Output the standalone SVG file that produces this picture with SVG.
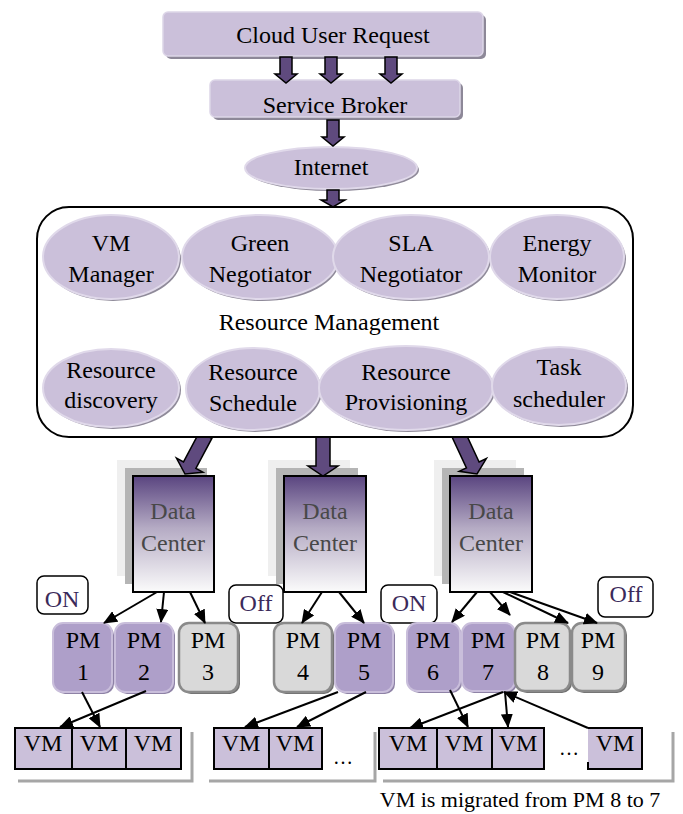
<svg xmlns="http://www.w3.org/2000/svg" xmlns:xlink="http://www.w3.org/1999/xlink" width="683" height="814" viewBox="0 0 683 814" font-family="'Liberation Serif', 'Times New Roman', 'DejaVu Serif', serif">
<style>
text{font-family:'Liberation Serif','Times New Roman','DejaVu Serif',serif;font-size:24px;text-anchor:middle;fill:#000}
.box{fill:#cbc0da;stroke:#ddd6e8;stroke-width:1.5}
.sh{fill:#8d8898}
.ell{fill:#cbc0da;stroke:#e0d9ea;stroke-width:2}
.esh{fill:#8f8a99}
.fat{fill:#5f4a7e;stroke:#000;stroke-width:1.5}
.ln{stroke:#000;stroke-width:2;fill:none;marker-end:url(#ah)}
.dc{fill:url(#dcg);stroke:#000;stroke-width:2}
.dct{fill:#484848}
.l1{fill:#efefef}
.l2{fill:#b5b5b5}
.pmp{fill:#ae9fc9;stroke:#c9bedb;stroke-width:2}
.pmps{fill:#8e82a6}
.pmg{fill:#d9d9d9;stroke:#8a8a8a;stroke-width:2.5}
.pmgs{fill:#6e6e6e}
.vm{fill:#cbc0da;stroke:#000;stroke-width:2}
.br{fill:none;stroke:#a6a6a6;stroke-width:3}
.tag{fill:#fff;stroke:#000;stroke-width:1.5}
.tagt{fill:#3b2a5a}
</style>
<defs>
<linearGradient id="dcg" x1="0" y1="0" x2="0" y2="1">
<stop offset="0" stop-color="#5a4580"/>
<stop offset="0.45" stop-color="#b5abc4"/>
<stop offset="1" stop-color="#fbfbfb"/>
</linearGradient>
<marker id="ah" markerUnits="userSpaceOnUse" markerWidth="14" markerHeight="12" viewBox="0 0 14 12" refX="13" refY="6" orient="auto">
<path d="M0,0 L14,6 L0,12 Z" fill="#000"/>
</marker>
<clipPath id="below"><rect x="0" y="438" width="683" height="100"/></clipPath>
<path id="arS" d="M-6,-26 H6 V-9 H11 L0,0 L-11,-9 H-6 Z"/>
<path id="arB" d="M-7,-44 H7 V-10 H15 L0,0 L-15,-10 H-7 Z"/>
</defs>

<g id="cloud-user-request">
<rect class="sh" x="166" y="15" width="320" height="44" rx="5"/>
<rect class="box" x="163" y="12" width="320" height="44" rx="5"/>
<text x="333" y="43">Cloud User Request</text>
</g>
<g id="service-broker">
<rect class="sh" x="213" y="83" width="250" height="37" rx="5"/>
<rect class="box" x="210" y="80" width="250" height="37" rx="5"/>
<text x="335" y="113">Service Broker</text>
</g>
<g id="internet">
<ellipse class="esh" cx="333" cy="170" rx="86" ry="21"/>
<ellipse class="ell" cx="331" cy="168" rx="86" ry="21"/>
<text x="331" y="175">Internet</text>
</g>

<g id="resource-management">
<rect x="37" y="207" width="596" height="230" rx="32" fill="#fff" stroke="#000" stroke-width="2"/>
<text x="329" y="330">Resource Management</text>
</g>
<g id="vm-manager">
<ellipse class="esh" cx="113" cy="259" rx="68" ry="42"/>
<ellipse class="ell" cx="111" cy="257" rx="68" ry="42"/>
<text x="111" y="251">VM</text><text x="111" y="282">Manager</text>
</g>
<g id="green-negotiator">
<ellipse class="esh" cx="262" cy="259" rx="78" ry="42"/>
<ellipse class="ell" cx="260" cy="257" rx="78" ry="42"/>
<text x="260" y="251">Green</text><text x="260" y="282">Negotiator</text>
</g>
<g id="sla-negotiator">
<ellipse class="esh" cx="413" cy="259" rx="78" ry="42"/>
<ellipse class="ell" cx="411" cy="257" rx="78" ry="42"/>
<text x="411" y="251">SLA</text><text x="411" y="282">Negotiator</text>
</g>
<g id="energy-monitor">
<ellipse class="esh" cx="559" cy="259" rx="67" ry="42"/>
<ellipse class="ell" cx="557" cy="257" rx="67" ry="42"/>
<text x="557" y="251">Energy</text><text x="557" y="282">Monitor</text>
</g>
<g id="resource-discovery">
<ellipse class="esh" cx="113" cy="390" rx="68" ry="39"/>
<ellipse class="ell" cx="111" cy="388" rx="68" ry="39"/>
<text x="111" y="378">Resource</text><text x="111" y="408">discovery</text>
</g>
<g id="resource-schedule">
<ellipse class="esh" cx="255" cy="391" rx="67" ry="41"/>
<ellipse class="ell" cx="253" cy="389" rx="67" ry="41"/>
<text x="253" y="380">Resource</text><text x="253" y="411">Schedule</text>
</g>
<g id="resource-provisioning">
<ellipse class="esh" cx="408" cy="390" rx="87" ry="42"/>
<ellipse class="ell" cx="406" cy="388" rx="87" ry="42"/>
<text x="406" y="380">Resource</text><text x="406" y="410">Provisioning</text>
</g>
<g id="task-scheduler">
<ellipse class="esh" cx="561" cy="388" rx="67" ry="39"/>
<ellipse class="ell" cx="559" cy="386" rx="67" ry="39"/>
<text x="559" y="375">Task</text><text x="559" y="407">scheduler</text>
</g>

<g id="dc1">
<rect class="l1" x="117" y="460" width="82" height="116"/>
<rect class="l2" x="125" y="468" width="82" height="116"/>
<rect class="dc" x="133" y="476" width="81" height="116"/>
<text class="dct" x="173" y="519">Data</text><text class="dct" x="173" y="551">Center</text>
</g>
<g id="dc2">
<rect class="l1" x="268" y="460" width="82" height="116"/>
<rect class="l2" x="276" y="468" width="82" height="116"/>
<rect class="dc" x="284" y="476" width="82" height="116"/>
<text class="dct" x="325" y="519">Data</text><text class="dct" x="325" y="551">Center</text>
</g>
<g id="dc3">
<rect class="l1" x="434" y="460" width="82" height="116"/>
<rect class="l2" x="442" y="468" width="82" height="116"/>
<rect class="dc" x="450" y="476" width="82" height="116"/>
<text class="dct" x="491" y="519">Data</text><text class="dct" x="491" y="551">Center</text>
</g>

<g id="tag-on1"><rect class="tag" x="37" y="576" width="51" height="38" rx="7"/><text class="tagt" x="62" y="607">ON</text></g>
<g id="tag-off1"><rect class="tag" x="229" y="585" width="54" height="38" rx="7"/><text class="tagt" x="256" y="611">Off</text></g>
<g id="tag-on2"><rect class="tag" x="381" y="585" width="56" height="38" rx="7"/><text class="tagt" x="409" y="611">ON</text></g>
<g id="tag-off2"><rect class="tag" x="598" y="577" width="55" height="40" rx="7"/><text class="tagt" x="626" y="602">Off</text></g>

<g id="pm1"><rect class="pmps" x="55" y="625" width="59" height="69" rx="10"/><rect class="pmp" x="53" y="623" width="59" height="69" rx="10"/><text x="83" y="648">PM</text><text x="83" y="680">1</text></g>
<g id="pm2"><rect class="pmps" x="117" y="625" width="58" height="69" rx="10"/><rect class="pmp" x="115" y="623" width="58" height="69" rx="10"/><text x="144" y="648">PM</text><text x="144" y="680">2</text></g>
<g id="pm3"><rect class="pmgs" x="181" y="625" width="59" height="69" rx="10"/><rect class="pmg" x="179" y="623" width="59" height="69" rx="10"/><text x="208" y="648">PM</text><text x="208" y="680">3</text></g>
<g id="pm4"><rect class="pmgs" x="276" y="625" width="58" height="69" rx="10"/><rect class="pmg" x="274" y="623" width="58" height="69" rx="10"/><text x="303" y="648">PM</text><text x="303" y="680">4</text></g>
<g id="pm5"><rect class="pmps" x="337" y="625" width="58" height="69" rx="10"/><rect class="pmp" x="335" y="623" width="58" height="69" rx="10"/><text x="364" y="648">PM</text><text x="364" y="680">5</text></g>
<g id="pm6"><rect class="pmps" x="409" y="625" width="53" height="68" rx="10"/><rect class="pmp" x="407" y="623" width="53" height="68" rx="10"/><text x="433" y="648">PM</text><text x="433" y="680">6</text></g>
<g id="pm7"><rect class="pmps" x="464" y="625" width="53" height="68" rx="10"/><rect class="pmp" x="462" y="623" width="53" height="68" rx="10"/><text x="488" y="648">PM</text><text x="488" y="680">7</text></g>
<g id="pm8"><rect class="pmgs" x="517" y="625" width="55" height="68" rx="10"/><rect class="pmg" x="515" y="623" width="55" height="68" rx="10"/><text x="543" y="648">PM</text><text x="543" y="680">8</text></g>
<g id="pm9"><rect class="pmgs" x="574" y="625" width="53" height="68" rx="10"/><rect class="pmg" x="572" y="623" width="53" height="68" rx="10"/><text x="598" y="648">PM</text><text x="598" y="680">9</text></g>

<g id="vm-row1">
<polyline class="br" points="18,781 192,781 192,732"/>
<rect class="vm" x="15" y="728" width="57" height="41"/><text x="43" y="751">VM</text>
<rect class="vm" x="72" y="728" width="54" height="41"/><text x="99" y="751">VM</text>
<rect class="vm" x="126" y="728" width="55" height="41"/><text x="153" y="751">VM</text>
</g>
<g id="vm-row2">
<polyline class="br" points="209,781 375,781 375,732"/>
<rect class="vm" x="214" y="728" width="55" height="41"/><text x="241" y="751">VM</text>
<rect class="vm" x="269" y="728" width="53" height="41"/><text x="295" y="751">VM</text>
<text x="343" y="764" style="font-size:20px">…</text>
</g>
<g id="vm-row3">
<polyline class="br" points="383,781 673,781 673,732"/>
<rect class="vm" x="379" y="728" width="58" height="41"/><text x="408" y="751">VM</text>
<rect class="vm" x="437" y="728" width="55" height="41"/><text x="464" y="751">VM</text>
<rect class="vm" x="492" y="728" width="52" height="41"/><text x="518" y="751">VM</text>
<text x="569" y="755" style="font-size:20px">…</text>
<rect x="588" y="728" width="54" height="41" fill="#cbc0da"/>
<path d="M588,728 H642 V769 H588 V762" fill="none" stroke="#000" stroke-width="2"/>
<text x="615" y="751">VM</text>
</g>

<text x="520" y="807" style="font-size:22px">VM is migrated from PM 8 to 7</text>

<g id="connectors">
<use xlink:href="#arS" href="#arS" class="fat" transform="translate(286,83)"/>
<use xlink:href="#arS" href="#arS" class="fat" transform="translate(331,83)"/>
<use xlink:href="#arS" href="#arS" class="fat" transform="translate(391,83)"/>
<use xlink:href="#arS" href="#arS" class="fat" transform="translate(333,146)"/>
<path class="fat" d="M327,190 H339 V200 H345 L333,207 L321,200 H327 Z"/>
<g clip-path="url(#below)">
<use xlink:href="#arB" href="#arB" class="fat" transform="translate(185,474) rotate(28)"/>
<use xlink:href="#arB" href="#arB" class="fat" transform="translate(323,476)"/>
<use xlink:href="#arB" href="#arB" class="fat" transform="translate(477,474) rotate(-25)"/>
</g>
<line class="ln" x1="157" y1="592" x2="104" y2="623"/>
<line class="ln" x1="164" y1="592" x2="161" y2="622"/>
<line class="ln" x1="190" y1="592" x2="205" y2="623"/>
<line class="ln" x1="322" y1="592" x2="302" y2="623"/>
<line class="ln" x1="339" y1="592" x2="364" y2="623"/>
<line class="ln" x1="477" y1="592" x2="452" y2="622"/>
<line class="ln" x1="490" y1="592" x2="510" y2="615"/>
<line class="ln" x1="503" y1="592" x2="568" y2="623"/>
<line class="ln" x1="510" y1="592" x2="597" y2="623"/>
<line class="ln" x1="82" y1="692" x2="100" y2="727"/>
<line class="ln" x1="146" y1="691" x2="60" y2="727"/>
<line class="ln" x1="338" y1="692" x2="245" y2="727"/>
<line class="ln" x1="366" y1="692" x2="297" y2="727"/>
<line class="ln" x1="450" y1="690" x2="468" y2="727"/>
<line class="ln" x1="503" y1="692" x2="410" y2="728"/>
<line class="ln" x1="505" y1="692" x2="508" y2="727"/>
<line class="ln" x1="588" y1="728" x2="504" y2="692"/>
</g>
</svg>
